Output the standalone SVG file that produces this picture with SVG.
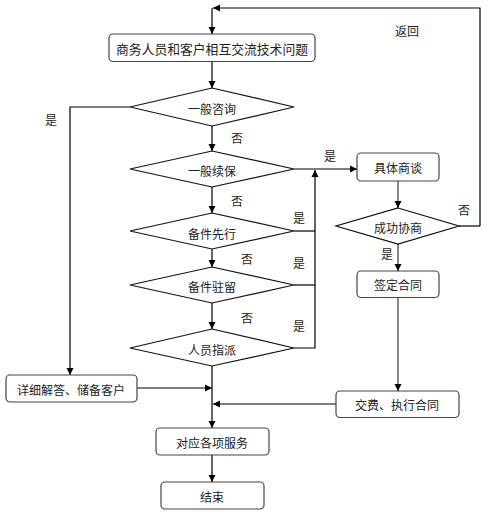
<svg xmlns="http://www.w3.org/2000/svg" width="488" height="516" viewBox="0 0 488 516">
<defs>
<marker id="ah" markerWidth="8" markerHeight="8" refX="7" refY="4" orient="auto" markerUnits="userSpaceOnUse">
<path d="M0,0.5 L7,4 L0,7.5 Z" fill="#000"/>
</marker>
</defs>
<style>
.box{fill:#fff;stroke:#444;stroke-width:1.2}
.dia{fill:#fff;stroke:#111;stroke-width:1.2}
.t{font-family:"Noto Sans CJK SC","Liberation Sans",sans-serif;font-size:12px;fill:#222;text-anchor:middle;dominant-baseline:central}
.lb{font-family:"Noto Sans CJK SC","Liberation Sans",sans-serif;font-size:12px;fill:#222;text-anchor:middle;dominant-baseline:central}
.c{fill:none;stroke:#000;stroke-width:1.2}
.g{fill:none;stroke:#555;stroke-width:1.4}
</style>
<rect width="488" height="516" fill="#fff"/>
<g id="connectors">
<path class="c" d="M480,226 H459" />
<path class="c" d="M480,226 V8 H213" marker-end="url(#ah)"/>
<path class="c" d="M212,8 V34" marker-end="url(#ah)"/>
<path class="c" d="M212,62 V88" marker-end="url(#ah)"/>
<path class="c" d="M212,126 V151" marker-end="url(#ah)"/>
<path class="c" d="M212,187 V213" marker-end="url(#ah)"/>
<path class="c" d="M212,249 V267" marker-end="url(#ah)"/>
<path class="c" d="M212,303 V329" marker-end="url(#ah)"/>
<path class="c" d="M212,366 V428" marker-end="url(#ah)"/>
<path class="c" d="M212,455 V482" marker-end="url(#ah)"/>
<path class="c" d="M130,107 H70 V375" marker-end="url(#ah)"/>
<path class="c" d="M294,169 H357" marker-end="url(#ah)"/>
<path class="c" d="M294,348 H315 V170" marker-end="url(#ah)"/>
<path class="c" d="M294,231 H315"/>
<path class="c" d="M294,285 H315"/>
<path class="g" d="M398,181 V208" marker-end="url(#ah)"/>
<path class="g" d="M398,244 V271" marker-end="url(#ah)"/>
<path class="g" d="M398,297 V391" marker-end="url(#ah)"/>
<path class="c" d="M137,388 H212" marker-end="url(#ah)"/>
<path class="g" d="M336,404 H213" marker-end="url(#ah)"/>
</g>
<g id="labels">
<text class="lb" x="407" y="30">返回</text>
<text class="lb" x="51" y="119">是</text>
<text class="lb" x="237" y="137">否</text>
<text class="lb" x="330" y="155">是</text>
<text class="lb" x="237" y="200">否</text>
<text class="lb" x="299" y="217">是</text>
<text class="lb" x="464" y="209">否</text>
<text class="lb" x="387" y="253">是</text>
<text class="lb" x="247" y="258">否</text>
<text class="lb" x="299" y="262">是</text>
<text class="lb" x="247" y="317">否</text>
<text class="lb" x="299" y="325">是</text>
</g>
<g id="n1"><rect class="box" x="109" y="34" width="206" height="27.5" rx="4"/><text class="t" x="212" y="48" style="font-size:12.8px">商务人员和客户相互交流技术问题</text></g>
<g id="n2"><polygon class="dia" points="212,88 294,107 212,126 130,107"/><text class="t" x="212" y="108">一般咨询</text></g>
<g id="n3"><polygon class="dia" points="212,151 294,169 212,187 130,169"/><text class="t" x="212" y="170">一般续保</text></g>
<g id="n4"><polygon class="dia" points="212,213 294,231 212,249 130,231"/><text class="t" x="212" y="233">备件先行</text></g>
<g id="n5"><polygon class="dia" points="212,267 294,285 212,303 130,285"/><text class="t" x="212" y="286">备件驻留</text></g>
<g id="n6"><polygon class="dia" points="212,329 294,348 212,366 130,348"/><text class="t" x="212" y="349">人员指派</text></g>
<g id="n7"><rect class="box" x="357" y="153" width="82" height="28" rx="4"/><text class="t" x="398" y="167">具体商谈</text></g>
<g id="n8"><polygon class="dia" points="398,208 459,226 398,244 336,226"/><text class="t" x="398" y="227">成功协商</text></g>
<g id="n9"><rect class="box" x="357" y="271" width="82" height="26.5" rx="4"/><text class="t" x="398" y="284">签定合同</text></g>
<g id="n10"><rect class="box" x="6" y="375" width="131" height="27" rx="4"/><text class="t" x="71" y="389">详细解答、储备客户</text></g>
<g id="n11"><rect class="box" x="336" y="391" width="123" height="26.5" rx="4"/><text class="t" x="397" y="404">交费、执行合同</text></g>
<g id="n12"><rect class="box" x="156" y="428" width="113" height="27" rx="4"/><text class="t" x="212" y="442">对应各项服务</text></g>
<g id="n13"><rect class="box" x="161" y="482" width="103" height="27" rx="4"/><text class="t" x="212" y="496">结束</text></g>
</svg>
